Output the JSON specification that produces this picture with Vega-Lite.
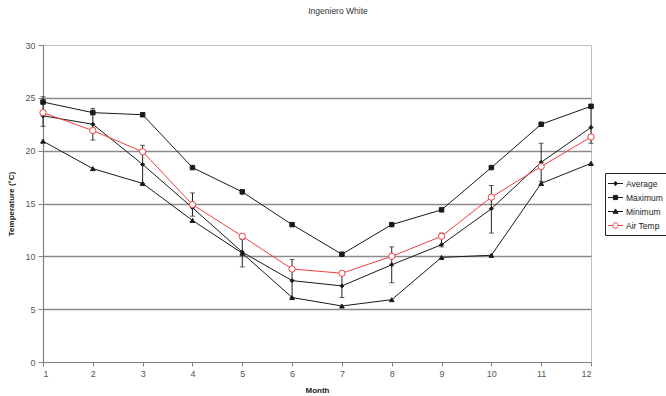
{
  "$schema": "https://vega.github.io/schema/vega-lite/v6.json",
  "autosize": {"type": "none"},
  "width": 548,
  "height": 317,
  "padding": {"left": 43, "top": 45, "right": 75, "bottom": 34},
  "background": "white",
  "title": {"text": "Ingeniero White", "fontSize": 8.5, "font": "Liberation Sans", "fontWeight": "normal", "color": "#333", "anchor": "middle", "frame": "group", "dx": 21, "offset": 26},
  "config": {
    "view": {"stroke": "#c0c0c0", "strokeWidth": 1},
    "axis": {"labelFont": "Liberation Sans", "labelFontSize": 9, "labelColor": "#555", "titleFont": "Liberation Sans", "titleFontSize": 8, "titleFontWeight": "bold", "titleColor": "#222", "domainColor": "#808080", "tickColor": "#808080", "domainWidth": 1.2}
  },
  "datasets": {
    "series": [
      {"month": 1, "series": "Average", "value": 23.3},
      {"month": 2, "series": "Average", "value": 22.5},
      {"month": 3, "series": "Average", "value": 18.7},
      {"month": 4, "series": "Average", "value": 14.6},
      {"month": 5, "series": "Average", "value": 10.4},
      {"month": 6, "series": "Average", "value": 7.7},
      {"month": 7, "series": "Average", "value": 7.2},
      {"month": 8, "series": "Average", "value": 9.2},
      {"month": 9, "series": "Average", "value": 11.1},
      {"month": 10, "series": "Average", "value": 14.5},
      {"month": 11, "series": "Average", "value": 18.9},
      {"month": 12, "series": "Average", "value": 22.2},
      {"month": 1, "series": "Maximum", "value": 24.6},
      {"month": 2, "series": "Maximum", "value": 23.6},
      {"month": 3, "series": "Maximum", "value": 23.4},
      {"month": 4, "series": "Maximum", "value": 18.4},
      {"month": 5, "series": "Maximum", "value": 16.1},
      {"month": 6, "series": "Maximum", "value": 13.0},
      {"month": 7, "series": "Maximum", "value": 10.2},
      {"month": 8, "series": "Maximum", "value": 13.0},
      {"month": 9, "series": "Maximum", "value": 14.4},
      {"month": 10, "series": "Maximum", "value": 18.4},
      {"month": 11, "series": "Maximum", "value": 22.5},
      {"month": 12, "series": "Maximum", "value": 24.2},
      {"month": 1, "series": "Minimum", "value": 20.9},
      {"month": 2, "series": "Minimum", "value": 18.3},
      {"month": 3, "series": "Minimum", "value": 16.9},
      {"month": 4, "series": "Minimum", "value": 13.4},
      {"month": 5, "series": "Minimum", "value": 10.3},
      {"month": 6, "series": "Minimum", "value": 6.1},
      {"month": 7, "series": "Minimum", "value": 5.3},
      {"month": 8, "series": "Minimum", "value": 5.9},
      {"month": 9, "series": "Minimum", "value": 9.9},
      {"month": 10, "series": "Minimum", "value": 10.1},
      {"month": 11, "series": "Minimum", "value": 16.9},
      {"month": 12, "series": "Minimum", "value": 18.8},
      {"month": 1, "series": "Air Temp", "value": 23.6},
      {"month": 2, "series": "Air Temp", "value": 21.9},
      {"month": 3, "series": "Air Temp", "value": 19.9},
      {"month": 4, "series": "Air Temp", "value": 14.9},
      {"month": 5, "series": "Air Temp", "value": 11.9},
      {"month": 6, "series": "Air Temp", "value": 8.8},
      {"month": 7, "series": "Air Temp", "value": 8.4},
      {"month": 8, "series": "Air Temp", "value": 10.0},
      {"month": 9, "series": "Air Temp", "value": 11.9},
      {"month": 10, "series": "Air Temp", "value": 15.6},
      {"month": 11, "series": "Air Temp", "value": 18.5},
      {"month": 12, "series": "Air Temp", "value": 21.3}
    ],
    "errors": [
      {"month": 1, "low": 22.3, "high": 25.1},
      {"month": 2, "low": 21.0, "high": 24.0},
      {"month": 3, "low": 16.9, "high": 20.5},
      {"month": 4, "low": 13.8, "high": 16.0},
      {"month": 5, "low": 9.0, "high": 11.6},
      {"month": 6, "low": 6.1, "high": 9.7},
      {"month": 7, "low": 6.1, "high": 8.4},
      {"month": 8, "low": 7.5, "high": 10.9},
      {"month": 9, "low": 10.9, "high": 12.2},
      {"month": 10, "low": 12.2, "high": 16.7},
      {"month": 11, "low": 17.1, "high": 20.7},
      {"month": 12, "low": 20.7, "high": 24.1}
    ]
  },
  "encoding": {
    "x": {"field": "month", "type": "quantitative", "scale": {"domain": [1, 12], "nice": false, "zero": false},
      "axis": {"title": "Month", "values": [1,2,3,4,5,6,7,8,9,10,11,12], "format": "d", "grid": false, "tickSize": 4, "labelPadding": 3, "titlePadding": 8}}
  },
  "layer": [
    {
      "data": {"name": "errors"},
      "mark": {"type": "errorbar", "color": "#222", "thickness": 1, "ticks": {"size": 5, "color": "#222", "thickness": 1}},
      "encoding": {
        "y": {"field": "low", "type": "quantitative", "title": "Temperature (°C)", "scale": {"domain": [0, 30], "nice": false}},
        "y2": {"field": "high"}
      }
    },
    {
      "data": {"name": "series"},
      "mark": {"type": "line", "strokeWidth": 1},
      "encoding": {
        "y": {"field": "value", "type": "quantitative", "title": "Temperature (°C)", "scale": {"domain": [0, 30], "nice": false},
          "axis": {"title": "Temperature (°C)", "values": [0,5,10,15,20,25,30], "grid": true,
            "gridColor": {"condition": {"test": "datum.value === 0 || datum.value === 30", "value": "transparent"}, "value": "#8a8a8a"},
            "gridWidth": 1.5, "tickSize": 5, "labelPadding": 3, "titlePadding": 9}},
        "stroke": {"field": "series", "type": "nominal",
          "scale": {"domain": ["Average", "Maximum", "Minimum", "Air Temp"], "range": ["#1a1a1a", "#1a1a1a", "#1a1a1a", "#f04040"]},
          "legend": {"title": null, "orient": "none", "legendX": 562, "legendY": 128,
            "strokeColor": "#222", "padding": 4, "rowPadding": 3, "symbolSize": 144, "symbolStrokeWidth": 1,
            "labelFont": "Liberation Sans", "labelFontSize": 8.5, "labelColor": "#222", "labelOffset": 4,
            "encode": {"symbols": {"update": {
              "fill": {"signal": "datum.value === 'Air Temp' ? '#ffffff' : '#1a1a1a'"},
              "shape": {"signal": "datum.value === 'Average' ? 'M-1.25,0H1.25M0,-0.35L0.35,0L0,0.35L-0.35,0Z' : datum.value === 'Maximum' ? 'M-1.25,0H1.25M-0.35,-0.35H0.35V0.35H-0.35Z' : datum.value === 'Minimum' ? 'M-1.25,0H1.25M0,-0.42L0.42,0.3H-0.42Z' : 'M-1.25,0H-0.45M0.45,0H1.25M0.45,0A0.45,0.45 0 1,1 -0.45,0A0.45,0.45 0 1,1 0.45,0Z'"}}}}}},
        "detail": {"field": "series"}
      }
    },
    {
      "data": {"name": "series"},
      "transform": [{"filter": "datum.series === 'Average'"}],
      "mark": {"type": "point", "shape": "diamond", "filled": true, "fill": "#1a1a1a", "size": 16, "strokeWidth": 1, "opacity": 1},
      "encoding": {"y": {"field": "value", "type": "quantitative", "title": "Temperature (°C)"}, "stroke": {"field": "series", "type": "nominal"}}
    },
    {
      "data": {"name": "series"},
      "transform": [{"filter": "datum.series === 'Maximum'"}],
      "mark": {"type": "point", "shape": "square", "filled": true, "fill": "#1a1a1a", "size": 20, "strokeWidth": 1, "opacity": 1},
      "encoding": {"y": {"field": "value", "type": "quantitative", "title": "Temperature (°C)"}, "stroke": {"field": "series", "type": "nominal"}}
    },
    {
      "data": {"name": "series"},
      "transform": [{"filter": "datum.series === 'Minimum'"}],
      "mark": {"type": "point", "shape": "triangle-up", "filled": true, "fill": "#1a1a1a", "size": 22, "strokeWidth": 1, "opacity": 1},
      "encoding": {"y": {"field": "value", "type": "quantitative", "title": "Temperature (°C)"}, "stroke": {"field": "series", "type": "nominal"}}
    },
    {
      "data": {"name": "series"},
      "transform": [{"filter": "datum.series === 'Air Temp'"}],
      "mark": {"type": "point", "shape": "circle", "filled": true, "fill": "#ffffff", "size": 40, "strokeWidth": 1, "opacity": 1},
      "encoding": {"y": {"field": "value", "type": "quantitative", "title": "Temperature (°C)"}, "stroke": {"field": "series", "type": "nominal"}}
    }
  ]
}
